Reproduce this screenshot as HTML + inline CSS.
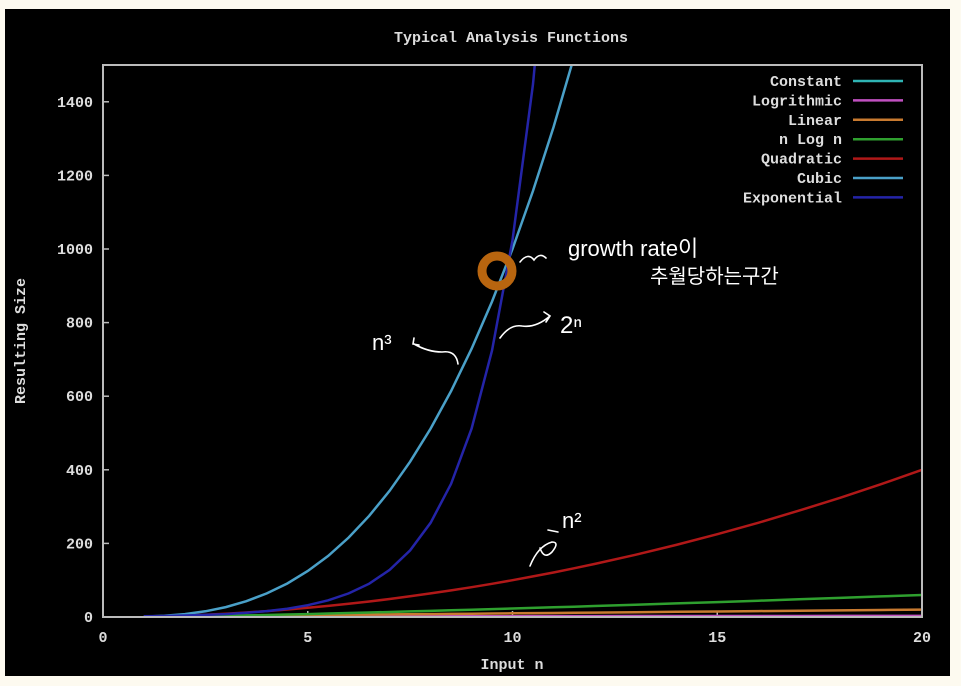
<!DOCTYPE html>
<html><head><meta charset="utf-8"><style>
body{margin:0;background:#fdfaf0;}
svg{display:block;font-family:"Liberation Mono",monospace;font-weight:bold;}
</style></head><body>
<svg id="c" width="961" height="686" viewBox="0 0 961 686">
<rect x="0" y="0" width="961" height="686" fill="#fdfaf0"/>
<rect x="5" y="9" width="945" height="667" fill="#000"/>
<text x="511" y="42" fill="#ddd" font-size="15" text-anchor="middle">Typical Analysis Functions</text>
<text x="512" y="669" fill="#ddd" font-size="15" text-anchor="middle">Input n</text>
<text transform="translate(25,341) rotate(-90)" fill="#ddd" font-size="15" text-anchor="middle">Resulting Size</text>
<defs><clipPath id="pc"><rect x="103" y="65" width="819" height="552"/></clipPath></defs>
<g id="axes"></g>
<g id="series" clip-path="url(#pc)"></g>
<rect x="103" y="65" width="819" height="552" fill="none" stroke="#bbb" stroke-width="2"/>
<g id="legend"></g>
<g fill="none" stroke="#fff" stroke-width="1.6" stroke-linecap="round">
<circle cx="497" cy="271" r="15" stroke="#b8650f" stroke-width="9"/>
<path d="M520 262 q8 -10 14 -2 q6 -8 12 -2"/>
<path d="M500 338 q10 -14 22 -12 q14 2 28 -10 m-6 -4 l6 4 l-4 6"/>
<path d="M458 364 q-2 -14 -16 -12 q-14 0 -28 -8 m0 -6 l-1 6 l6 1"/>
<path d="M530 566 q8 -20 22 -24 q8 0 0 10 q-8 8 -12 -4 m8 -18 l10 2"/>
</g>
<g fill="#fff" font-family="'Liberation Sans','Noto Sans CJK KR',sans-serif" font-weight="normal">
<text x="568" y="256" font-size="22">growth rate이</text>
<text x="650" y="283" font-size="20">추월당하는구간</text>
<text x="372" y="350" font-size="22">n³</text>
<text x="560" y="333" font-size="24">2ⁿ</text>
<text x="562" y="528" font-size="22">n²</text>
</g>
</svg>
<script>
const xTicks=[0,5,10,15,20];
const yTicks=[0,200,400,600,800,1000,1200,1400];
const seriesNames=["Constant","Logrithmic","Linear","n Log n","Quadratic","Cubic","Exponential"];
const nValues=[1,1.5,2,2.5,3,3.5,4,4.5,5,5.5,6,6.5,7,7.5,8,8.5,9,9.5,10,10.5,11,11.5,12,13,14,15,16,17,18,19,20];
const constantVals=[1,1,1,1,1,1,1,1,1,1,1,1,1,1,1,1,1,1,1,1,1,1,1,1,1,1,1,1,1,1,1];
const logVals=[0,0.4,0.7,0.9,1.1,1.3,1.4,1.5,1.6,1.7,1.8,1.9,1.9,2,2.1,2.1,2.2,2.3,2.3,2.4,2.4,2.4,2.5,2.6,2.6,2.7,2.8,2.8,2.9,2.9,3];
const linearVals=[1,1.5,2,2.5,3,3.5,4,4.5,5,5.5,6,6.5,7,7.5,8,8.5,9,9.5,10,10.5,11,11.5,12,13,14,15,16,17,18,19,20];
const nlognVals=[0,0.6,1.4,2.3,3.3,4.4,5.5,6.8,8,9.4,10.8,12.2,13.6,15.1,16.6,18.2,19.8,21.4,23,24.7,26.4,28.1,29.8,33.3,36.9,40.6,44.4,48.2,52,55.9,59.9];
const quadVals=[1,2.25,4,6.25,9,12.25,16,20.25,25,30.25,36,42.25,49,56.25,64,72.25,81,90.25,100,110.25,121,132.25,144,169,196,225,256,289,324,361,400];
const cubicVals=[1,3.4,8,15.6,27,42.9,64,91.1,125,166,216,275,343,422,512,614,729,857,1000,1158,1331,1521,1728,2197,2744,3375,4096,4913,5832,6859,8000];
const expVals=[2,2.8,4,5.7,8,11.3,16,22.6,32,45.3,64,90.5,128,181,256,362,512,724,1024,1448,2048,2896,4096,8192,16384,32768,65536,131072,262144,524288,1048576];
const colors=["#2fb4b4","#c050c0","#c87a30","#2fa02f","#b01818","#4aa0c8","#2424a8"];
const allVals=[constantVals,logVals,linearVals,nlognVals,quadVals,cubicVals,expVals];
const X0=103,X1=922,Y0=617,Y1=65,XMAX=20,YMAX=1500;
const xs=v=>X0+(X1-X0)*v/XMAX;
const ys=v=>Y0-(Y0-Y1)*v/YMAX;
const NS="http://www.w3.org/2000/svg";
const axes=document.getElementById('axes');
const ser=document.getElementById('series');
const leg=document.getElementById('legend');
function mk(tag,attrs,parent){const e=document.createElementNS(NS,tag);for(const k in attrs)e.setAttribute(k,attrs[k]);parent.appendChild(e);return e;}
xTicks.forEach(t=>{
  const l=mk('line',{x1:xs(t),x2:xs(t),y1:Y0,y2:Y0-6,stroke:'#bbb','stroke-width':1.5},axes);
  
  
  const tx=mk('text',{x:xs(t),y:642,fill:'#ddd','font-size':15,'text-anchor':'middle'},axes);
  tx.textContent=t;
  
  
});
yTicks.forEach(t=>{
  const l=mk('line',{x1:X0,x2:X0+6,y1:ys(t),y2:ys(t),stroke:'#bbb','stroke-width':1.5},axes);
  
  
  const tx=mk('text',{x:93,y:ys(t)+5,fill:'#ddd','font-size':15,'text-anchor':'end'},axes);
  tx.textContent=t;
  
  
});
allVals.forEach((vals,i)=>{
  const pts=nValues.map((n,j)=>xs(n).toFixed(1)+','+ys(Math.min(vals[j],5000)).toFixed(1)).join(' ');
  const p=mk('polyline',{points:pts,fill:'none',stroke:colors[i],'stroke-width':2.5},ser);
  
  
  const y=81+i*19.4;
  const t=mk('text',{x:842,y:y+5,fill:'#ddd','font-size':15,'text-anchor':'end'},leg);
  t.textContent=seriesNames[i];
  
  
  const l=mk('line',{x1:853,x2:903,y1:y,y2:y,stroke:colors[i],'stroke-width':2.5},leg);
  
  
});
</script>
</body></html>
